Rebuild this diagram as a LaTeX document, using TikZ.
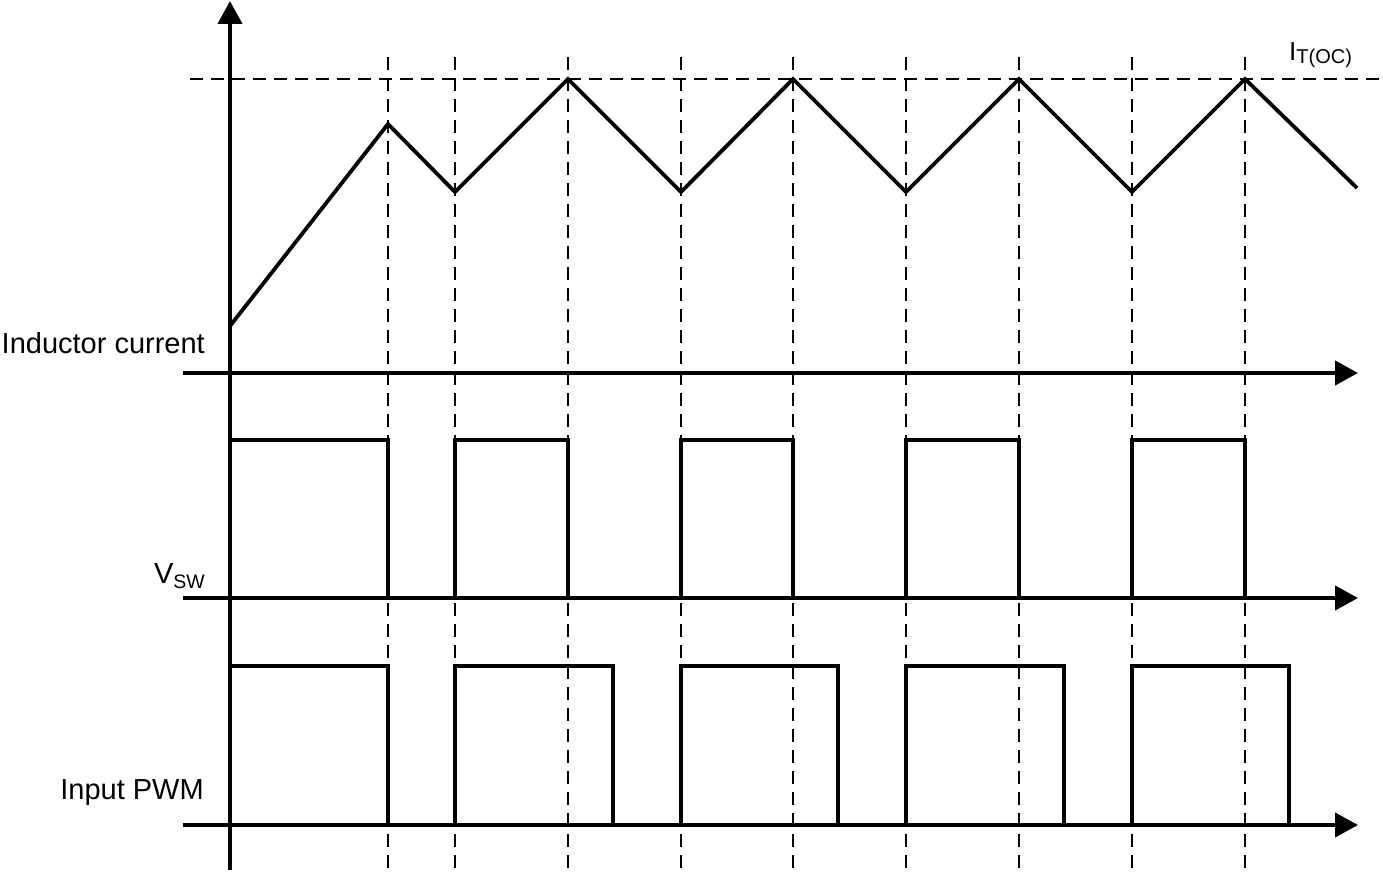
\documentclass[tikz,border=0pt]{standalone}
\usepackage{fontspec}
\setmainfont{Liberation Sans}
\usetikzlibrary{arrows.meta}
\begin{document}
\begin{tikzpicture}[x=1pt,y=-1pt,
  axisline/.style={line width=4.2pt,-{Triangle[length=23pt,width=24pt]}},
  signal/.style={line width=3.8pt,line join=miter},
  guide/.style={line width=2pt,dash pattern=on 13pt off 8pt},
  lbl/.style={inner sep=0pt,font=\fontsize{29}{33}\selectfont}
]
\useasboundingbox (0,0) rectangle (1383,875);

% dashed guides
\draw[guide] (190,79) -- (1383,79);
\foreach \x in {388,455,568,681,793,906,1019,1132,1245}
  \draw[guide] (\x,57) -- (\x,870);

% inductor current
\draw[signal] (230,326) -- (388,124) -- (455,192) -- (568,79) -- (681,192)
  -- (793,79) -- (906,192) -- (1019,79) -- (1132,192) -- (1245,79) -- (1357,188);

% V_SW pulses
\foreach \a/\b in {230/388,455/568,681/793,906/1019,1132/1245}
  \draw[signal] (\a,598) -- (\a,440) -- (\b,440) -- (\b,598);

% Input PWM pulses
\foreach \a/\b in {230/388,455/613,681/838,906/1064,1132/1289}
  \draw[signal] (\a,825) -- (\a,666) -- (\b,666) -- (\b,825);

% axes
\draw[axisline] (230,870) -- (230,1);
\draw[axisline] (183,373) -- (1358,373);
\draw[axisline] (183,598) -- (1358,598);
\draw[axisline] (183,825) -- (1358,825);

% labels
\node[lbl,anchor=base east] (lind) at (205,353) {Inductor current};
\node[lbl,anchor=base east] (lvsw) at (205,583) {V\raisebox{-5pt}{\fontsize{19.5}{22}\selectfont SW}};
\node[lbl,anchor=base east] (lpwm) at (204,799) {Input PWM};
\node[inner sep=0pt,anchor=base west,font=\fontsize{26}{30}\selectfont] (ltoc) at (1289,60) {I\raisebox{-3pt}{\fontsize{20}{22}\selectfont T(OC)}};
\end{tikzpicture}
\end{document}
